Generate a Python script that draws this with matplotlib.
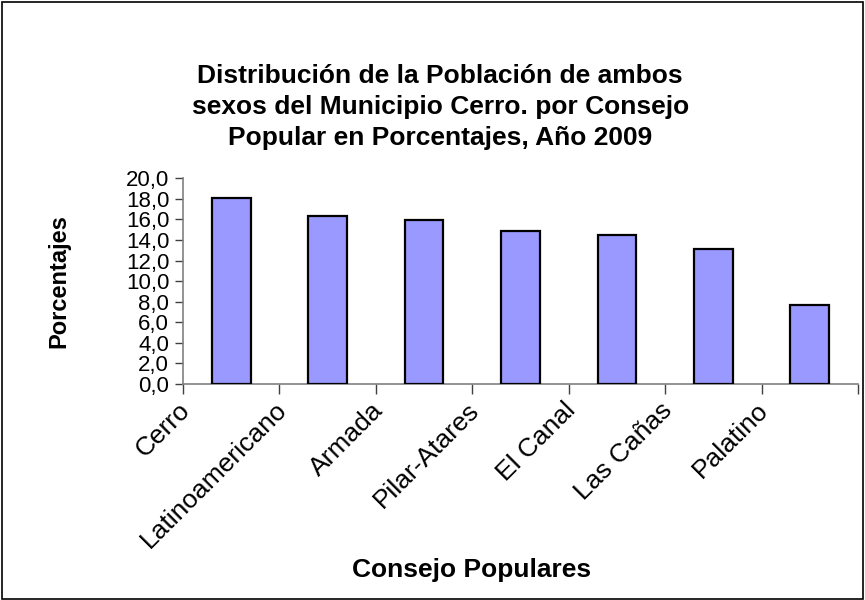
import numpy as np
import matplotlib.pyplot as plt
from matplotlib.patches import Rectangle
from matplotlib.ticker import FuncFormatter, FixedLocator
import matplotlib.transforms as mtransforms

# Data

consejos = [
    "Cerro",
    "Latinoamericano",
    "Armada",
    "Pilar-Atares",
    "El Canal",
    "Las Cañas",
    "Palatino",
]

porcentajes = [18.1, 16.3, 15.9, 14.9, 14.5, 13.1, 7.7]

y_ticks = np.arange(0, 21, 2)

title = ("Distribución de la Población de ambos\n"
         "sexos del Municipio Cerro. por Consejo\n"
         "Popular en Porcentajes, Año 2009")

# Figure

plt.rcParams["font.family"] = ["Liberation Sans", "DejaVu Sans"]

fig = plt.figure(figsize=(8.65, 6), dpi=100)

ax = fig.add_axes([0.2116, 0.36, 0.7803, 0.3428])

x = np.arange(len(consejos))

ax.bar(
    x,
    porcentajes,
    width=0.4,
    color="#9999FF",
    edgecolor="black",
    linewidth=1.6,
    zorder=3
)

ax.set_xlim(-0.5, len(consejos) - 0.5)
ax.set_ylim(0, 20)

# Axes style

for side in ["top", "right"]:
    ax.spines[side].set_visible(False)

for side in ["left", "bottom"]:
    ax.spines[side].set_color("#808080")
    ax.spines[side].set_linewidth(1.2)

ax.set_yticks(y_ticks)
ax.yaxis.set_major_formatter(
    FuncFormatter(lambda v, p: f"{v:.1f}".replace(".", ","))
)
ax.tick_params(
    axis="y",
    direction="out",
    length=6,
    width=1,
    color="#404040",
    labelsize=16,
    pad=4
)

# category boundaries carry the tick marks, labels sit on the centres
ax.xaxis.set_major_locator(FixedLocator(x))
ax.xaxis.set_minor_locator(FixedLocator(np.arange(len(consejos) + 1) - 0.5))
ax.tick_params(axis="x", which="major", length=0, pad=16)
ax.tick_params(
    axis="x",
    which="minor",
    direction="out",
    length=7,
    width=1,
    color="#404040"
)

ax.set_xticklabels(
    consejos,
    rotation=45,
    ha="right",
    va="center",
    rotation_mode="anchor",
    fontsize=19
)

shift = mtransforms.ScaledTranslation(-0.45, 0, fig.dpi_scale_trans)
for lbl in ax.get_xticklabels():
    lbl.set_transform(lbl.get_transform() + shift)

# Texts

fig.text(
    0.509,
    0.822,
    title,
    ha="center",
    va="center",
    fontsize=19,
    fontweight="bold",
    linespacing=1.37
)

ax.set_ylabel(
    "Porcentajes",
    fontsize=17,
    fontweight="bold",
    labelpad=40
)

fig.text(
    0.545,
    0.05,
    "Consejo Populares",
    ha="center",
    va="center",
    fontsize=19,
    fontweight="bold"
)

# Border around the whole chart

fig.patches.append(
    Rectangle(
        (0.002, 0.002),
        0.996,
        0.995,
        transform=fig.transFigure,
        fill=False,
        edgecolor="black",
        linewidth=1.2
    )
)

plt.savefig("out.png", dpi=100)

plt.close()
